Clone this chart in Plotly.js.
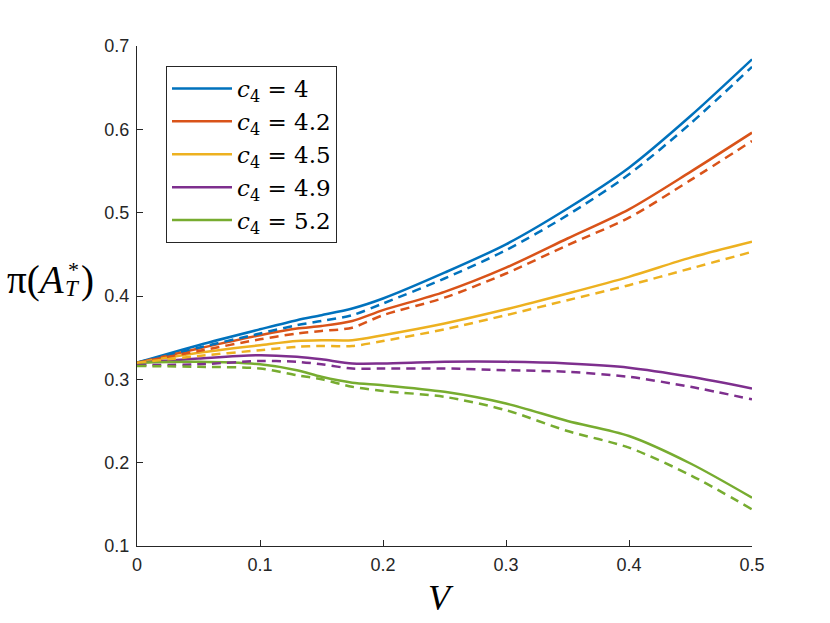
<!DOCTYPE html>
<html><head><meta charset="utf-8">
<script src="https://cdn.plot.ly/plotly-3.0.1.min.js"></script>
<style>html,body{margin:0;padding:0;background:#fff}</style>
</head><body><div id="chart" style="width:830px;height:623px"></div>
<script>
const V = [0, 0.05, 0.1, 0.13, 0.15, 0.175, 0.2, 0.25, 0.3, 0.35, 0.4, 0.45, 0.5];

const blueSolid   = [0.320,0.341,0.360,0.371,0.377,0.385,0.397,0.428,0.462,0.505,0.554,0.616,0.684];
const blueDash    = [0.320,0.338,0.355,0.365,0.370,0.377,0.391,0.421,0.455,0.497,0.546,0.607,0.675];
const redSolid    = [0.320,0.337,0.353,0.361,0.364,0.370,0.383,0.405,0.434,0.469,0.504,0.549,0.596];
const redDash     = [0.320,0.334,0.348,0.355,0.358,0.362,0.377,0.398,0.427,0.461,0.494,0.539,0.586];
const yellowSolid = [0.320,0.332,0.341,0.346,0.347,0.347,0.353,0.367,0.384,0.403,0.423,0.446,0.465];
const yellowDash  = [0.320,0.328,0.335,0.339,0.340,0.340,0.346,0.360,0.377,0.395,0.413,0.433,0.453];
const purpleSolid = [0.320,0.325,0.329,0.327,0.324,0.319,0.319,0.321,0.321,0.319,0.314,0.303,0.289];
const purpleDash  = [0.317,0.318,0.322,0.321,0.318,0.313,0.313,0.313,0.311,0.309,0.303,0.291,0.276];
const greenSolid  = [0.320,0.321,0.318,0.311,0.303,0.296,0.293,0.285,0.271,0.250,0.232,0.199,0.158];
const greenDash   = [0.316,0.315,0.313,0.305,0.300,0.291,0.286,0.279,0.263,0.238,0.218,0.185,0.144];

const c4Labels = ['4', '4.2', '4.5', '4.9', '5.2'];
const colors = ['#0072BD', '#D95319', '#EDB120', '#7E2F8E', '#77AC30'];
const solidSeries = [blueSolid, redSolid, yellowSolid, purpleSolid, greenSolid];
const dashSeries = [blueDash, redDash, yellowDash, purpleDash, greenDash];

const traces = [];
for (let i = 0; i < 5; i++) {
  traces.push({
    x: V, y: solidSeries[i], type: 'scatter', mode: 'lines',
    name: '<i>c</i><sub>4</sub> = ' + c4Labels[i],
    legendgroup: 'g' + i,
    line: {color: colors[i], width: 2.5, shape: 'spline', smoothing: 0.8}
  });
}
for (let i = 0; i < 5; i++) {
  traces.push({
    x: V, y: dashSeries[i], type: 'scatter', mode: 'lines',
    name: 'c4 = ' + c4Labels[i] + ' (dashed)',
    legendgroup: 'g' + i, showlegend: false,
    line: {color: colors[i], width: 2.5, dash: '9px,6px', shape: 'spline', smoothing: 0.8}
  });
}

const L = 137, R = 752, T = 46, B = 546;
function px(x) { return (x - L) / (R - L); }
function py(y) { return (B - y) / (B - T); }
const serif = 'Liberation Serif, DejaVu Serif, serif';

const axisCommon = {
  showline: true, linecolor: '#262626', linewidth: 1,
  ticks: 'inside', ticklen: 6, tickcolor: '#262626', tickwidth: 1,
  showgrid: false, zeroline: false, mirror: false,
  tickfont: {family: 'Liberation Sans, Arial, sans-serif', size: 18, color: '#262626'}
};

const layout = {
  width: 830, height: 623,
  margin: {l: L, r: 830 - R, t: T, b: 623 - B, pad: 0},
  paper_bgcolor: '#fff', plot_bgcolor: '#fff',
  showlegend: true,
  legend: {
    x: px(166), y: py(66), xanchor: 'left', yanchor: 'top',
    bgcolor: '#fff', bordercolor: '#262626', borderwidth: 1,
    font: {family: 'DejaVu Serif, serif', size: 23, color: '#000'},
    itemwidth: 60,
    tracegroupgap: 0
  },
  xaxis: Object.assign({}, axisCommon, {range: [0, 0.5], tickvals: [0, 0.1, 0.2, 0.3, 0.4, 0.5], ticklabelstandoff: 2}),
  yaxis: Object.assign({}, axisCommon, {range: [0.1, 0.7], tickvals: [0.1, 0.2, 0.3, 0.4, 0.5, 0.6, 0.7], ticklabelstandoff: 3}),
  annotations: [
    {xref: 'paper', yref: 'paper', x: px(441), y: py(598), text: '<i>V</i>', showarrow: false,
     font: {family: serif, size: 36, color: '#000'}, xanchor: 'center', yanchor: 'middle'},
    {xref: 'paper', yref: 'paper', x: px(66), y: py(280), text: 'π(<i>A</i>', showarrow: false,
     font: {family: serif, size: 39, color: '#000'}, xanchor: 'right', yanchor: 'middle'},
    {xref: 'paper', yref: 'paper', x: px(66), y: py(269), text: '*', showarrow: false,
     font: {family: serif, size: 22, color: '#000'}, xanchor: 'left', yanchor: 'middle'},
    {xref: 'paper', yref: 'paper', x: px(63), y: py(288), text: '<i>T</i>', showarrow: false,
     font: {family: serif, size: 23, color: '#000'}, xanchor: 'left', yanchor: 'middle'},
    {xref: 'paper', yref: 'paper', x: px(79), y: py(280), text: ')', showarrow: false,
     font: {family: serif, size: 39, color: '#000'}, xanchor: 'left', yanchor: 'middle'}
  ]
};

Plotly.newPlot('chart', traces, layout, {displayModeBar: false, staticPlot: true});
</script>
</body></html>
